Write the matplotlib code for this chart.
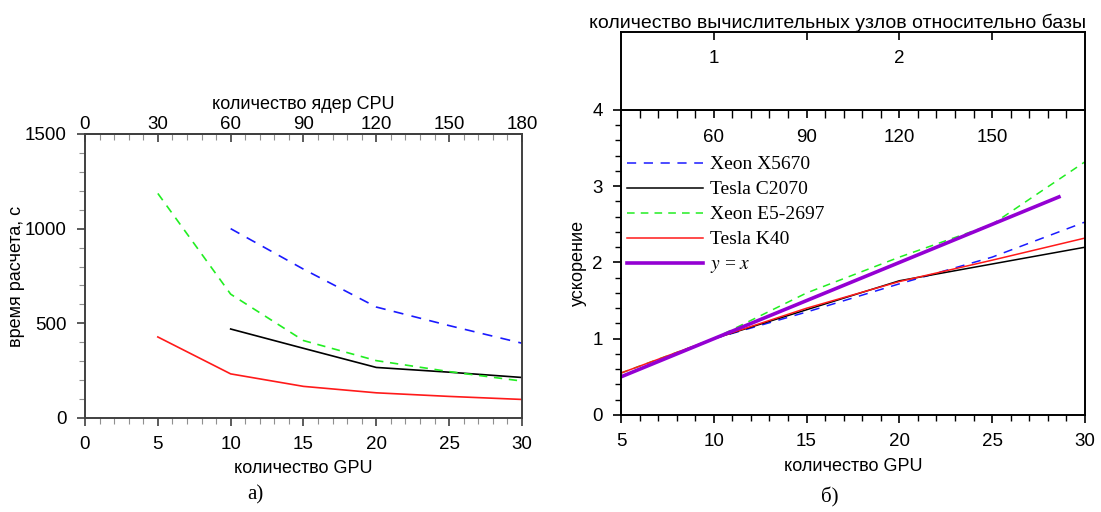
import matplotlib
matplotlib.use("Agg")
import matplotlib.pyplot as plt
from matplotlib.ticker import MultipleLocator, FixedLocator

plt.rcParams['font.family'] = ['Liberation Sans', 'DejaVu Sans']
plt.rcParams['mathtext.fontset'] = 'stix'

# время расчета, с (по количеству GPU)
gpu_x5670 = [10, 15, 20, 25, 30]
time_x5670 = [1000, 786, 586, 488, 395]
gpu_c2070 = [10, 15, 20, 25, 30]
time_c2070 = [470, 368, 267, 242, 214]
gpu_e5 = [5, 10, 15, 20, 25, 30]
time_e5 = [1186, 654, 409, 303, 245, 195]
gpu_k40 = [5, 10, 15, 20, 25, 30]
time_k40 = [428, 233, 167, 133, 114, 98]

# ускорение относительно 10 GPU
sp_x5670 = [1.0, 1.35, 1.72, 2.07, 2.53]
sp_c2070 = [1.0, 1.38, 1.76, 1.98, 2.20]
sp_e5 = [0.55, 1.0, 1.6, 2.07, 2.5, 3.32]
sp_k40 = [0.55, 1.0, 1.4, 1.75, 2.03, 2.32]
ideal_x = [5, 28.6]
ideal_y = [0.5, 2.86]

BLUE = '#1a1aff'
GREEN = '#22ee22'
RED = '#ff1a1a'
PURPLE = '#9400d3'

TICK_FS = 13.5
LABEL_FS = 13

fig = plt.figure(figsize=(11.01, 5.12), dpi=100)

# ---- а) время расчета ----
ax1 = fig.add_axes([0.0772, 0.1836, 0.3969, 0.5547])
ax1.plot(gpu_x5670, time_x5670, color=BLUE, lw=1.2, dashes=(6, 5))
ax1.plot(gpu_c2070, time_c2070, color='black', lw=1.2)
ax1.plot(gpu_e5, time_e5, color=GREEN, lw=1.2, dashes=(5, 4))
ax1.plot(gpu_k40, time_k40, color=RED, lw=1.2)
ax1.set_xlim(0, 30)
ax1.set_ylim(0, 1500)
ax1.xaxis.set_major_locator(MultipleLocator(5))
ax1.xaxis.set_minor_locator(MultipleLocator(1))
ax1.yaxis.set_major_locator(MultipleLocator(500))
ax1.yaxis.set_minor_locator(MultipleLocator(100))
for s in ax1.spines.values():
    s.set_color('#404040')
    s.set_linewidth(1.4)
ax1.tick_params(which='major', direction='out', length=6, width=1.2, color='#404040',
                labelsize=TICK_FS, pad=7)
ax1.tick_params(which='minor', direction='out', length=4, width=0.8, color='#909090')
ax1.tick_params(axis='y', which='both', right=False)
ax1.set_xlabel('количество GPU', fontsize=LABEL_FS, labelpad=5)
ax1.set_ylabel('время расчета, с', fontsize=LABEL_FS, labelpad=0)

top1 = ax1.secondary_xaxis('top', functions=(lambda x: 6 * x, lambda x: x / 6))
top1.xaxis.set_major_locator(MultipleLocator(30))
top1.xaxis.set_minor_locator(MultipleLocator(6))
top1.spines['top'].set_color('#404040')
top1.spines['top'].set_linewidth(1.4)
top1.tick_params(which='major', direction='in', length=6, width=1.2, color='#404040',
                 labelsize=TICK_FS, pad=1)
top1.tick_params(which='minor', direction='in', length=4, width=0.8, color='#909090')
top1.set_xlabel('количество ядер CPU', fontsize=LABEL_FS, labelpad=5)

fig.text(255 / 1101, 1 - 495 / 512, 'а)', family='Liberation Serif', fontsize=15,
         ha='center', va='center')

# ---- б) ускорение ----
ax2 = fig.add_axes([0.5640, 0.1895, 0.4214, 0.5957])
ax2.plot(gpu_x5670, sp_x5670, color=BLUE, lw=1.1, dashes=(6, 5), label='Xeon X5670')
ax2.plot(gpu_c2070, sp_c2070, color='black', lw=1.1, label='Tesla C2070')
ax2.plot(gpu_e5, sp_e5, color=GREEN, lw=1.1, dashes=(5, 4), label='Xeon E5-2697')
ax2.plot(gpu_k40, sp_k40, color=RED, lw=1.1, label='Tesla K40')
ax2.plot(ideal_x, ideal_y, color=PURPLE, lw=2.6, label='$y$ = $x$')
ax2.set_xlim(5, 30)
ax2.set_ylim(0, 4)
ax2.xaxis.set_major_locator(MultipleLocator(5))
ax2.xaxis.set_minor_locator(MultipleLocator(1))
ax2.yaxis.set_major_locator(MultipleLocator(1))
ax2.yaxis.set_minor_locator(MultipleLocator(0.2))
for s in ax2.spines.values():
    s.set_color('black')
    s.set_linewidth(1.4)
ax2.tick_params(which='major', direction='out', length=6, width=1.2, labelsize=TICK_FS, pad=7)
ax2.tick_params(which='minor', direction='out', length=4, width=1.0)
ax2.tick_params(axis='y', which='both', right=False)
ax2.set_xlabel('количество GPU', fontsize=LABEL_FS, labelpad=6)
ax2.set_ylabel('ускорение', fontsize=LABEL_FS, labelpad=4)

top2 = ax2.secondary_xaxis('top', functions=(lambda x: 6 * x, lambda x: x / 6))
top2.xaxis.set_major_locator(FixedLocator([60, 90, 120, 150]))
top2.xaxis.set_minor_locator(FixedLocator([36, 42, 48, 54, 66, 72, 78, 84, 96, 102, 108,
                                           114, 126, 132, 138, 144, 156, 162, 168, 174]))
top2.spines['top'].set_linewidth(1.4)
top2.tick_params(which='major', direction='in', length=6, width=1.2, labelsize=TICK_FS,
                 pad=-26)
top2.tick_params(which='minor', direction='in', length=6, width=1.0)
top2.set_xlabel('количество ядер CPU', fontsize=LABEL_FS, labelpad=1)

leg = ax2.legend(loc='upper left', bbox_to_anchor=(0.013, 0.85), frameon=False,
                 borderpad=0, borderaxespad=0, handlelength=3.9, handletextpad=0.35,
                 labelspacing=0.38, prop={'family': 'Liberation Serif', 'size': 14})

# шкала узлов относительно базы
hdr = fig.add_axes([0.5640, 0.7852, 0.4214, 0.1523])
hdr.set_xlim(0.5, 3)
hdr.set_ylim(0, 1)
hdr.set_yticks([])
for s in hdr.spines.values():
    s.set_color('black')
    s.set_linewidth(1.4)
hdr.xaxis.set_ticks_position('top')
hdr.xaxis.set_label_position('top')
hdr.set_xticks([1, 1.5, 2, 2.5])
hdr.set_xticklabels(['1', '', '2', ''])
hdr.tick_params(axis='x', which='major', direction='in', length=6, width=1.2,
                labelsize=TICK_FS, pad=-25)
hdr.set_xlabel('количество вычислительных узлов относительно базы', fontsize=14,
               labelpad=3)
hdr.xaxis.label.set_x(0.467)

fig.text(830 / 1101, 1 - 497 / 512, 'б)', family='Liberation Serif', fontsize=15,
         ha='center', va='center')

fig.savefig('out.png', dpi=100)
